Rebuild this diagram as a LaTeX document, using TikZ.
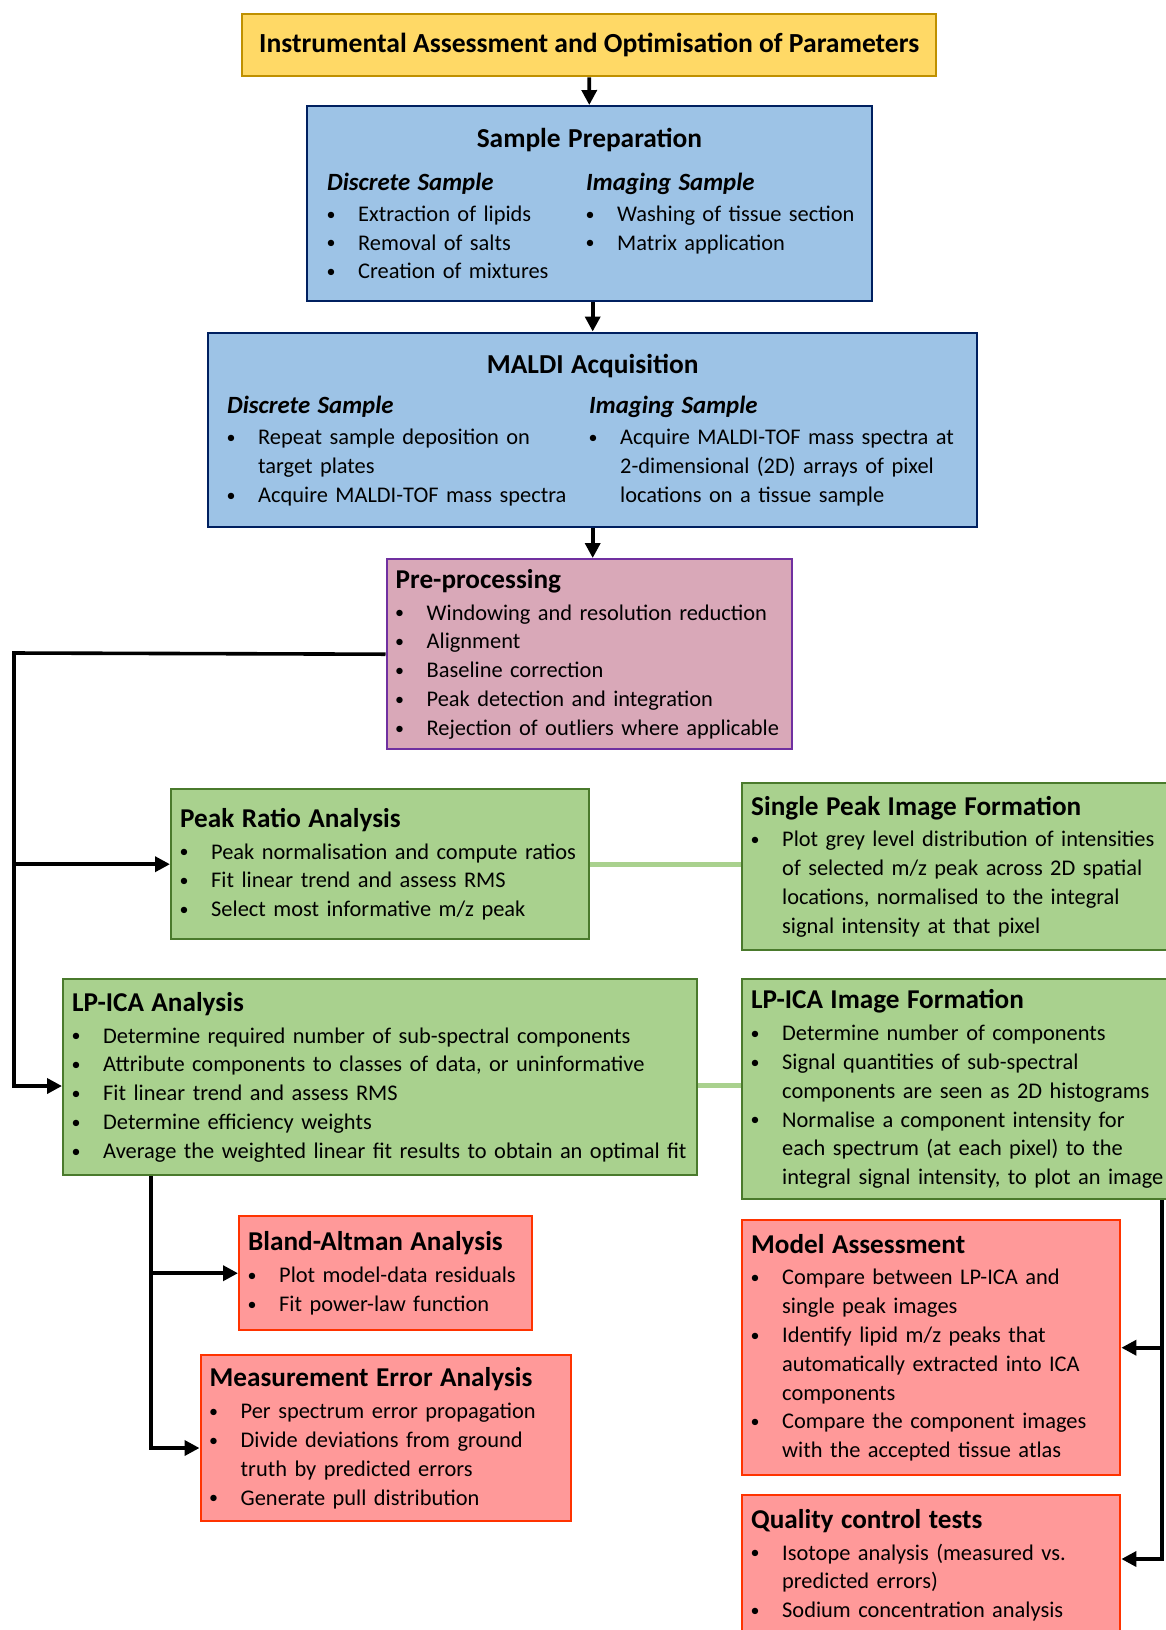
\documentclass[tikz,border=0pt]{standalone}
\usepackage{fontspec}
\setmainfont{Carlito}
\usetikzlibrary{arrows.meta}
\definecolor{goldfill}{HTML}{FFD966}
\definecolor{golddraw}{HTML}{BF9000}
\definecolor{bluefill}{HTML}{9DC3E6}
\definecolor{bluedraw}{HTML}{002060}
\definecolor{mauvefill}{HTML}{D9A8B8}
\definecolor{mauvedraw}{HTML}{7030A0}
\definecolor{leaffill}{HTML}{A9D18E}
\definecolor{leafdraw}{HTML}{4A7A2C}
\definecolor{salmonfill}{HTML}{FF9999}
\definecolor{salmondraw}{HTML}{FF3300}
\hyphenpenalty=10000
\exhyphenpenalty=10000
\newlength{\bind}
\setlength{\bind}{15.5pt}
\newcommand{\bodyfont}{\fontsize{11.2}{14.4}\selectfont}
\newcommand{\bitem}[1]{\par\noindent\hangindent=\bind\hangafter=1\makebox[\bind][l]{\hspace{-0.3pt}\raisebox{0.6pt}{\fontsize{9}{9}\selectfont\textbullet}}#1\par}
\newcommand{\btitle}[1]{{\fontsize{13.6}{15}\selectfont\bfseries #1\par}\vspace{1.5pt}}
\newcommand{\subhead}[1]{{\fontsize{12.4}{15}\selectfont\bfseries\itshape #1\par}\vspace{1pt}}
\tikzset{
  box/.style={
    draw,
    rectangle,
    line width=1.2pt,
    anchor=north west,
    align=left,
    inner xsep=4.5pt,
    inner ysep=0pt,
    font=\bodyfont
  },
  topbox/.style={box, fill=goldfill, draw=golddraw, align=center},
  sampbox/.style={box, fill=bluefill, draw=bluedraw},
  procbox/.style={box, fill=mauvefill, draw=mauvedraw},
  anabox/.style={box, fill=leaffill, draw=leafdraw},
  evalbox/.style={box, fill=salmonfill, draw=salmondraw},
  flow/.style={
    line width=1.8pt,
    -{Triangle[length=7.5pt,width=7.5pt]}
  },
  pairline/.style={line width=2.5pt, leaffill}
}

\begin{document}
\begin{tikzpicture}[x=0.5pt,y=-0.5pt]
\clip (0,0) rectangle (1166,1630);

% main chain
\node[topbox, minimum width=347pt, minimum height=31.25pt] (top) at (241,12.5)
  {\fontsize{13.8}{15}\selectfont\bfseries Instrumental Assessment and Optimisation of Parameters};

\node[sampbox, inner xsep=10.25pt, minimum width=282.75pt, minimum height=97.5pt, text width=262.25pt] (sample) at (305.5,105)
  {{\centering\fontsize{13.7}{15}\selectfont\bfseries Sample Preparation\par}\vspace{7pt}
   \begin{minipage}[t]{129.5pt}
   \subhead{Discrete Sample}
   \bitem{Extraction of lipids}
   \bitem{Removal of salts}
   \bitem{Creation of mixtures}
   \end{minipage}%
   \begin{minipage}[t]{138pt}
   \subhead{Imaging Sample}
   \bitem{Washing of tissue section}
   \bitem{Matrix application}
   \end{minipage}};

\node[sampbox, inner xsep=9.5pt, minimum width=384.5pt, minimum height=97.25pt, text width=365.5pt] (maldi) at (207,331.5)
  {{\centering\fontsize{13.7}{15}\selectfont\bfseries MALDI Acquisition\par}\vspace{6pt}
   \begin{minipage}[t]{181pt}
   \subhead{Discrete Sample}
   \bitem{Repeat sample deposition on\newline target plates}
   \bitem{Acquire MALDI-TOF mass spectra}
   \end{minipage}%
   \begin{minipage}[t]{186pt}
   \subhead{Imaging Sample}
   \bitem{Acquire MALDI-TOF mass spectra at\newline 2-dimensional (2D) arrays of pixel\newline locations on a tissue sample}
   \end{minipage}};

\node[procbox, minimum width=202.75pt, minimum height=95pt, text width=193.75pt] (pre) at (385.5,558)
  {\btitle{Pre-processing}
   \bitem{Windowing and resolution reduction}
   \bitem{Alignment}
   \bitem{Baseline correction}
   \bitem{Peak detection and integration}
   \bitem{Rejection of outliers where applicable}};

% analysis
\node[anabox, minimum width=209pt, minimum height=75pt, text width=200pt] (peak) at (170,788)
  {\btitle{Peak Ratio Analysis}
   \bitem{Peak normalisation and compute ratios}
   \bitem{Fit linear trend and assess RMS}
   \bitem{Select most informative m/z peak}};

\node[anabox, minimum width=213.5pt, minimum height=83.75pt, text width=204.5pt] (single) at (741,781.5)
  {\btitle{Single Peak Image Formation}
   \bitem{Plot grey level distribution of intensities\newline of selected m/z peak across 2D spatial\newline locations, normalised to the integral\newline signal intensity at that pixel}};

\node[anabox, minimum width=317pt, minimum height=98pt, text width=308pt] (lpica) at (62,978)
  {\btitle{LP-ICA Analysis}
   \bitem{Determine required number of sub-spectral components}
   \bitem{Attribute components to classes of data, or uninformative}
   \bitem{Fit linear trend and assess RMS}
   \bitem{Determine efficiency weights}
   \bitem{Average the weighted linear fit results to obtain an optimal fit}};

\node[anabox, minimum width=213.5pt, minimum height=110pt, text width=204.5pt] (lpimg) at (741,978)
  {\btitle{LP-ICA Image Formation}
   \bitem{Determine number of components}
   \bitem{Signal quantities of sub-spectral\newline components are seen as 2D histograms}
   \bitem{Normalise a component intensity for\newline each spectrum (at each pixel) to the\newline \mbox{integral signal intensity, to plot an image}}};

% evaluation
\node[evalbox, minimum width=146.5pt, minimum height=57pt, text width=137.5pt] (bland) at (238,1215)
  {\btitle{Bland-Altman Analysis}
   \bitem{Plot model-data residuals}
   \bitem{Fit power-law function}};

\node[evalbox, minimum width=185pt, minimum height=83pt, text width=176pt] (meas) at (199.5,1354)
  {\btitle{Measurement Error Analysis}
   \bitem{Per spectrum error propagation}
   \bitem{Divide deviations from ground\newline truth by predicted errors}
   \bitem{Generate pull distribution}};

\node[evalbox, minimum width=189pt, minimum height=127.5pt, text width=180pt] (model) at (741,1219)
  {\btitle{Model Assessment}
   \bitem{Compare between LP-ICA and\newline single peak images}
   \bitem{Identify lipid m/z peaks that\newline automatically extracted into ICA\newline components}
   \bitem{Compare the component images\newline with the accepted tissue atlas}};

\node[evalbox, minimum width=189pt, minimum height=70pt, text width=180pt] (quality) at (741,1494)
  {\btitle{Quality control tests}
   \bitem{Isotope analysis (measured vs.\newline predicted errors)}
   \bitem{Sodium concentration analysis}};

% connectors
\coordinate (lbend) at (14,653);
\coordinate (lfoot) at (14,1086);
\coordinate (bfoot) at (150.7,1448);
\coordinate (rfoot) at (1162,1559);

\draw[flow] (top) -- (sample);
\draw[flow] (sample.south -| maldi.north) -- (maldi.north);
\draw[flow] (maldi.south) -- (maldi.south |- pre.north);
\draw[flow] (pre.west) -- (lbend) -- (lfoot) -- (lfoot -| lpica.west);
\draw[flow] (lbend |- peak.west) -- (peak.west);
\draw[flow] (lpica.south -| bfoot) -- (bfoot) -- (bfoot -| meas.west);
\draw[flow] (bfoot |- bland.west) -- (bland.west);
\draw[flow] (lpimg.south -| rfoot) -- (rfoot) -- (rfoot -| quality.east);
\draw[flow] (rfoot |- model.east) -- (model.east);
\draw[pairline] (peak.east) -- (peak.east -| single.west);
\draw[pairline] ([yshift=-4pt]lpica.east) -- ([yshift=-4pt]lpica.east -| lpimg.west);
\end{tikzpicture}
\end{document}
